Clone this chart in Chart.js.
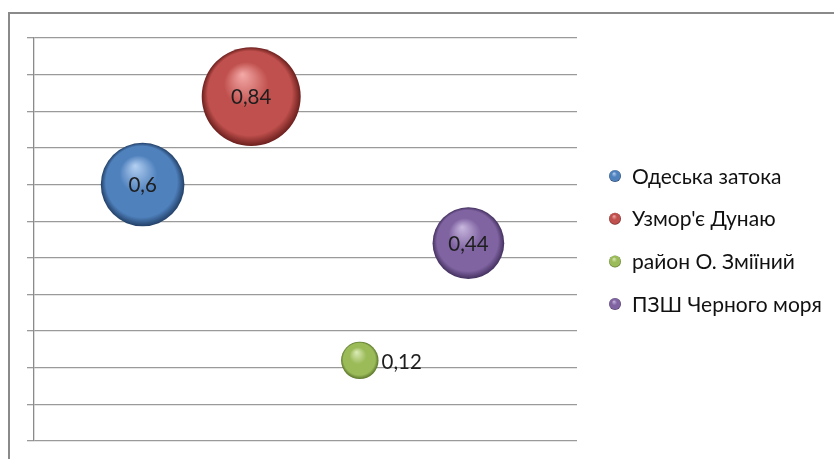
<!DOCTYPE html>
<html>
<head>
<meta charset="utf-8">
<script src="https://cdn.jsdelivr.net/npm/chart.js@4.4.1/dist/chart.umd.min.js"></script>
<style>
html,body{margin:0;padding:0;background:#fff;}
#wrap{width:834px;height:459px;position:relative;}
</style>
</head>
<body>
<div id="wrap"><canvas id="c" width="834" height="459"></canvas></div>
<script>
// ---- data ----
const categories = ['Одеська затока', "Узмор'є Дунаю", 'район О. Зміїний', 'ПЗШ Черного моря'];
const xPositions = [1, 2, 3, 4];
const values = [0.6, 0.84, 0.12, 0.44];
const yMin = -0.1, yMax = 1.0, yStep = 0.1;
const xMin = 0, xMax = 5;

// ---- styles ----
const palettes = [
  {light:'#b4d0f2', base:'#4f81bd', dark:'#223f66'},
  {light:'#f4aaa8', base:'#c0504d', dark:'#6a1f1d'},
  {light:'#dcebb8', base:'#9bbb59', dark:'#5a752a'},
  {light:'#c9b8df', base:'#8064a2', dark:'#43305e'}
];
const BUBBLE_SCALE = 54;
const FONT = 'Lato, "Open Sans", sans-serif';

function sphere(ctx, x, y, r, p) {
  const g = ctx.createRadialGradient(x - 0.18*r, y - 0.45*r, 0, x, y, r);
  g.addColorStop(0, p.light);
  g.addColorStop(0.45, p.base);
  g.addColorStop(0.85, p.base);
  g.addColorStop(1, p.dark);
  return g;
}

const datasets = categories.map((name, i) => ({
  label: name,
  data: [{x: xPositions[i], y: values[i], r: BUBBLE_SCALE * Math.sqrt(values[i])}],
  borderWidth: 0,
  hoverBorderWidth: 0,
  backgroundColor: (ctx) => {
    const p = palettes[i];
    if (!ctx.raw || !ctx.chart.scales || !ctx.chart.scales.x || !ctx.chart.scales.y) return p.base;
    const sx = ctx.chart.scales.x, sy = ctx.chart.scales.y;
    const px = sx.getPixelForValue(ctx.raw.x), py = sy.getPixelForValue(ctx.raw.y);
    if (!isFinite(px) || !isFinite(py)) return p.base;
    return sphere(ctx.chart.ctx, px, py, ctx.raw.r, p);
  },
  hoverBackgroundColor: palettes[i].base
}));

const framePlugin = {
  id: 'frame',
  beforeDraw(chart) {
    const c = chart.ctx;
    c.save();
    c.strokeStyle = '#8a8a8a';
    c.lineWidth = 2;
    c.beginPath();
    c.moveTo(9, 459);
    c.lineTo(9, 13);
    c.lineTo(834, 13);
    c.stroke();
    c.restore();
  }
};

const labelPlugin = {
  id: 'bubbleLabels',
  afterDatasetsDraw(chart) {
    const c = chart.ctx;
    c.save();
    c.font = '20.5px ' + FONT;
    c.fillStyle = '#1e1e1e';
    c.textBaseline = 'middle';
    chart.data.datasets.forEach((ds, i) => {
      const meta = chart.getDatasetMeta(i);
      meta.data.forEach((el, j) => {
        const txt = String(values[i]).replace('.', ',');
        const w = c.measureText(txt).width;
        const r = ds.data[j].r;
        if (w + 6 < 2 * r) {
          c.textAlign = 'center';
          c.fillText(txt, el.x, el.y + 1);
        } else {
          c.textAlign = 'left';
          c.fillText(txt, el.x + r + 3, el.y + 2);
        }
      });
    });
    c.restore();
  }
};

const legendPlugin = {
  id: 'customLegend',
  afterDraw(chart) {
    const c = chart.ctx;
    c.save();
    const x0 = 615, y0 = 176, gap = 42.7, rr = 6;
    c.font = '21px ' + FONT;
    c.textBaseline = 'middle';
    c.textAlign = 'left';
    categories.forEach((name, i) => {
      const y = y0 + i * gap;
      c.beginPath();
      c.arc(x0, y, rr, 0, Math.PI * 2);
      c.fillStyle = sphere(c, x0, y, rr, palettes[i]);
      c.fill();
      c.fillStyle = '#111';
      c.fillText(name, 632, y + 1);
    });
    c.restore();
  }
};

new Chart(document.getElementById('c'), {
  type: 'bubble',
  data: { datasets },
  options: {
    responsive: false,
    animation: false,
    events: [],
    layout: { autoPadding: false, padding: { left: 27, top: 38, right: 257, bottom: 18 } },
    clip: false,
    plugins: { legend: { display: false }, tooltip: { enabled: false } },
    scales: {
      x: { type: 'linear', min: xMin, max: xMax, display: false },
      y: {
        type: 'linear', min: yMin, max: yMax,
        ticks: { display: false, stepSize: yStep },
        grid: { color: '#9a9a9a', lineWidth: 1.3, tickLength: 7, drawTicks: true },
        border: { display: true, color: '#8a8a8a', width: 1.3 },
        afterFit(scale) { scale.width = 7; }
      }
    }
  },
  plugins: [framePlugin, labelPlugin, legendPlugin]
});
</script>
</body>
</html>
